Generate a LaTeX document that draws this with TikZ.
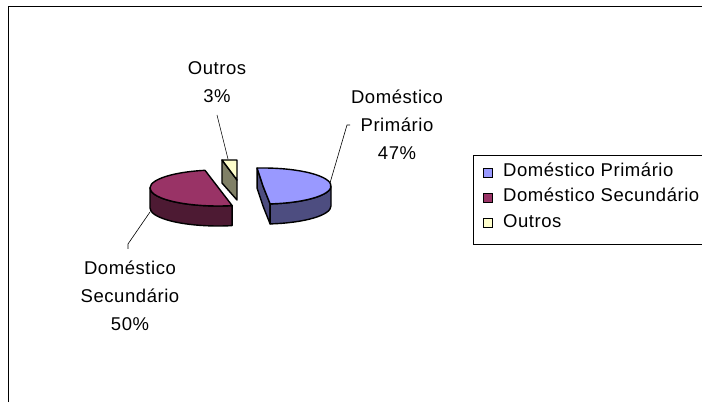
\documentclass[tikz,border=0pt]{standalone}
\usepackage{fontspec}
\setmainfont[LetterSpace=3]{Liberation Sans}
\usepackage{tikz}
\usetikzlibrary{calc}

\definecolor{priTop}{HTML}{9999FF}
\definecolor{priSide}{HTML}{4D4D80}
\definecolor{secTop}{HTML}{993366}
\definecolor{secSide}{HTML}{4D1A33}
\definecolor{outTop}{HTML}{FFFFCC}
\definecolor{outSide}{HTML}{808066}

\tikzset{
  slice/.style={draw=black,line width=1.4pt,line join=round},
  leader/.style={draw=black,line width=0.6pt},
  lbl/.style={align=center,inner sep=0pt,font=\fontsize{18.5}{28}\selectfont},
  keybox/.style={draw=black,line width=0.8pt,minimum size=9pt,inner sep=0pt},
  keytext/.style={anchor=base west,inner sep=0pt,font=\fontsize{18.5}{22}\selectfont}
}

\begin{document}
\begin{tikzpicture}[x=1pt,y=1pt]
  \path[use as bounding box,clip]
    (0,0)
    rectangle
    (702,402);
  % frame
  \draw[line width=1pt]
    (8,0)
    --
    (8,395)
    --
    (710,395);

  \coordinate (cSec) at (218,214);
  \coordinate (cPri) at (263,216);

  % Domestico Secundario
  \filldraw[slice,fill=secSide]
    ($(cSec)+(180:68 and 18)$)
    arc[start angle=180,end angle=282,x radius=68,y radius=18]
    -- ++(0,-20)
    arc[start angle=282,end angle=180,x radius=68,y radius=18]
    -- cycle;
  \filldraw[slice,fill=secTop]
    ($(cSec)+(101:68 and 18)$)
    arc[start angle=101,end angle=282,x radius=68,y radius=18]
    -- cycle;

  % Domestico Primario
  \filldraw[slice,fill=priSide]
    ($(cPri)+(95:68 and 18)$)
    -- (cPri)
    -- ($(cPri)+(276:68 and 18)$)
    -- ++(0,-20)
    -- ($(cPri)+(0,-20)$)
    -- ($(cPri)+(95:68 and 18)+(0,-20)$)
    -- cycle;
  \filldraw[slice,fill=priSide]
    ($(cPri)+(276:68 and 18)$)
    arc[start angle=276,end angle=360,x radius=68,y radius=18]
    -- ++(0,-20)
    arc[start angle=360,end angle=276,x radius=68,y radius=18]
    -- cycle;
  \filldraw[slice,fill=priTop]
    (cPri)
    -- ($(cPri)+(276:68 and 18)$)
    arc[start angle=276,end angle=455,x radius=68,y radius=18]
    -- cycle;

  % Outros
  \filldraw[slice,fill=outSide]
    (222,242) -- (237,222) -- (237,202) -- (222,219) -- cycle;
  \filldraw[slice,fill=outTop]
    (222,242) -- (237,242) -- (237,222) -- cycle;

  % labels
  \node[lbl] (lblOut) at (217,320) {Outros\\3\%};
  \node[lbl] (lblPri) at (397,277) {Doméstico\\Primário\\47\%};
  \node[lbl] (lblSec) at (130,106) {Doméstico\\Secundário\\50\%};

  \coordinate (outTip) at (217,287);
  \coordinate (outEnd) at (228,243);
  \coordinate (priTick) at (350,277);
  \coordinate (priTip) at (347,277);
  \coordinate (priEnd) at (330,219);
  \coordinate (secTick) at (128,153);
  \coordinate (secTip) at (128,158);
  \coordinate (secEnd) at (150,190);
  \draw[leader]
    (outTip)
    --
    (outEnd);
  \draw[leader]
    (priTick)
    --
    (priTip)
    --
    (priEnd);
  \draw[leader]
    (secTick)
    --
    (secTip)
    --
    (secEnd);

  % legend
  \draw[line width=0.8pt]
    (710,247)
    --
    (473,247)
    --
    (473,158)
    --
    (710,158);
  \node[keybox,fill=priTop] (keyPri) at (488,229.5) {};
  \node[keytext] (txtPri) at (503,225) {Doméstico Primário};
  \node[keybox,fill=secTop] (keySec) at (488,204.5) {};
  \node[keytext] (txtSec) at (503,200) {Doméstico Secundário};
  \node[keybox,fill=outTop] (keyOut) at (488,179) {};
  \node[keytext] (txtOut) at (503,174) {Outros};
\end{tikzpicture}
\end{document}
